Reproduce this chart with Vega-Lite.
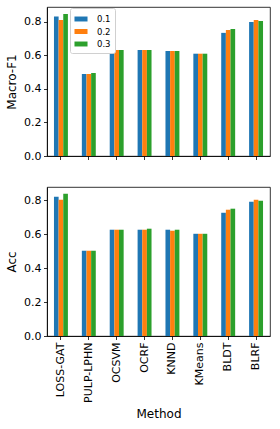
{
  "$schema": "https://vega.github.io/schema/vega-lite/v6.json",
  "padding": {"top": 6, "left": 5, "right": 4, "bottom": 4},
  "config": {
    "font": "DejaVu Sans",
    "view": {"stroke": "#000000", "strokeWidth": 0.8},
    "axis": {"grid": false, "domainColor": "#000000", "tickColor": "#000000", "labelColor": "#000000", "titleColor": "#000000", "labelFont": "DejaVu Sans", "titleFont": "DejaVu Sans", "labelFontSize": 11, "titleFontSize": 12, "titleFontWeight": "normal", "tickSize": 3.5, "labelPadding": 2.5, "domainWidth": 0.8, "tickWidth": 0.8},
    "concat": {"spacing": 24}
  },
  "data": {"values": [
    {"method": "LOSS-GAT", "ratio": "0.1", "metric": "Macro-F1", "value": 0.830},
    {"method": "LOSS-GAT", "ratio": "0.2", "metric": "Macro-F1", "value": 0.810},
    {"method": "LOSS-GAT", "ratio": "0.3", "metric": "Macro-F1", "value": 0.846},
    {"method": "PULP-LPHN", "ratio": "0.1", "metric": "Macro-F1", "value": 0.488},
    {"method": "PULP-LPHN", "ratio": "0.2", "metric": "Macro-F1", "value": 0.488},
    {"method": "PULP-LPHN", "ratio": "0.3", "metric": "Macro-F1", "value": 0.494},
    {"method": "OCSVM", "ratio": "0.1", "metric": "Macro-F1", "value": 0.631},
    {"method": "OCSVM", "ratio": "0.2", "metric": "Macro-F1", "value": 0.631},
    {"method": "OCSVM", "ratio": "0.3", "metric": "Macro-F1", "value": 0.631},
    {"method": "OCRF", "ratio": "0.1", "metric": "Macro-F1", "value": 0.631},
    {"method": "OCRF", "ratio": "0.2", "metric": "Macro-F1", "value": 0.631},
    {"method": "OCRF", "ratio": "0.3", "metric": "Macro-F1", "value": 0.631},
    {"method": "KNND", "ratio": "0.1", "metric": "Macro-F1", "value": 0.625},
    {"method": "KNND", "ratio": "0.2", "metric": "Macro-F1", "value": 0.625},
    {"method": "KNND", "ratio": "0.3", "metric": "Macro-F1", "value": 0.625},
    {"method": "KMeans", "ratio": "0.1", "metric": "Macro-F1", "value": 0.609},
    {"method": "KMeans", "ratio": "0.2", "metric": "Macro-F1", "value": 0.609},
    {"method": "KMeans", "ratio": "0.3", "metric": "Macro-F1", "value": 0.609},
    {"method": "BLDT", "ratio": "0.1", "metric": "Macro-F1", "value": 0.733},
    {"method": "BLDT", "ratio": "0.2", "metric": "Macro-F1", "value": 0.750},
    {"method": "BLDT", "ratio": "0.3", "metric": "Macro-F1", "value": 0.756},
    {"method": "BLRF", "ratio": "0.1", "metric": "Macro-F1", "value": 0.798},
    {"method": "BLRF", "ratio": "0.2", "metric": "Macro-F1", "value": 0.810},
    {"method": "BLRF", "ratio": "0.3", "metric": "Macro-F1", "value": 0.804},
    {"method": "LOSS-GAT", "ratio": "0.1", "metric": "Acc", "value": 0.822},
    {"method": "LOSS-GAT", "ratio": "0.2", "metric": "Acc", "value": 0.804},
    {"method": "LOSS-GAT", "ratio": "0.3", "metric": "Acc", "value": 0.839},
    {"method": "PULP-LPHN", "ratio": "0.1", "metric": "Acc", "value": 0.503},
    {"method": "PULP-LPHN", "ratio": "0.2", "metric": "Acc", "value": 0.503},
    {"method": "PULP-LPHN", "ratio": "0.3", "metric": "Acc", "value": 0.503},
    {"method": "OCSVM", "ratio": "0.1", "metric": "Acc", "value": 0.627},
    {"method": "OCSVM", "ratio": "0.2", "metric": "Acc", "value": 0.627},
    {"method": "OCSVM", "ratio": "0.3", "metric": "Acc", "value": 0.627},
    {"method": "OCRF", "ratio": "0.1", "metric": "Acc", "value": 0.627},
    {"method": "OCRF", "ratio": "0.2", "metric": "Acc", "value": 0.627},
    {"method": "OCRF", "ratio": "0.3", "metric": "Acc", "value": 0.633},
    {"method": "KNND", "ratio": "0.1", "metric": "Acc", "value": 0.627},
    {"method": "KNND", "ratio": "0.2", "metric": "Acc", "value": 0.621},
    {"method": "KNND", "ratio": "0.3", "metric": "Acc", "value": 0.627},
    {"method": "KMeans", "ratio": "0.1", "metric": "Acc", "value": 0.603},
    {"method": "KMeans", "ratio": "0.2", "metric": "Acc", "value": 0.603},
    {"method": "KMeans", "ratio": "0.3", "metric": "Acc", "value": 0.603},
    {"method": "BLDT", "ratio": "0.1", "metric": "Acc", "value": 0.727},
    {"method": "BLDT", "ratio": "0.2", "metric": "Acc", "value": 0.745},
    {"method": "BLDT", "ratio": "0.3", "metric": "Acc", "value": 0.751},
    {"method": "BLRF", "ratio": "0.1", "metric": "Acc", "value": 0.792},
    {"method": "BLRF", "ratio": "0.2", "metric": "Acc", "value": 0.804},
    {"method": "BLRF", "ratio": "0.3", "metric": "Acc", "value": 0.798}
  ]},
  "vconcat": [
    {
      "width": 223,
      "height": 149,
      "transform": [{"filter": "datum.metric === 'Macro-F1'"}],
      "mark": {"type": "bar"},
      "encoding": {
        "x": {"field": "method", "type": "nominal", "sort": null, "scale": {"paddingInner": 0.5, "paddingOuter": 0.25}, "axis": {"labels": false, "title": null}},
        "xOffset": {"field": "ratio", "type": "nominal", "scale": {"paddingInner": 0, "paddingOuter": 0}},
        "y": {"field": "value", "type": "quantitative", "scale": {"domain": [0, 0.887], "nice": false}, "axis": {"values": [0, 0.2, 0.4, 0.6, 0.8], "format": ".1f", "title": "Macro-F1", "titlePadding": 5}},
        "color": {"field": "ratio", "type": "nominal", "scale": {"range": ["#1f77b4", "#ff7f0e", "#2ca02c"]}, "legend": {"title": null, "orient": "none", "legendX": 23, "legendY": 1, "direction": "vertical", "symbolType": "M-1,-0.38H1V0.38H-1Z", "symbolSize": 170, "symbolStrokeWidth": 0, "labelFontSize": 8.5, "labelColor": "#000000", "rowPadding": 0.5, "padding": 4, "strokeColor": "#d0d0d0", "fillColor": "#ffffff", "cornerRadius": 2, "labelOffset": 9}}
      }
    },
    {
      "width": 223,
      "height": 149,
      "transform": [{"filter": "datum.metric === 'Acc'"}],
      "mark": {"type": "bar"},
      "encoding": {
        "x": {"field": "method", "type": "nominal", "sort": null, "scale": {"paddingInner": 0.5, "paddingOuter": 0.25}, "axis": {"labelAngle": -90, "title": "Method", "titlePadding": 6}},
        "xOffset": {"field": "ratio", "type": "nominal", "scale": {"paddingInner": 0, "paddingOuter": 0}},
        "y": {"field": "value", "type": "quantitative", "scale": {"domain": [0, 0.879], "nice": false}, "axis": {"values": [0, 0.2, 0.4, 0.6, 0.8], "format": ".1f", "title": "Acc", "titlePadding": 5}},
        "color": {"field": "ratio", "type": "nominal", "scale": {"range": ["#1f77b4", "#ff7f0e", "#2ca02c"]}, "legend": null}
      }
    }
  ]
}
